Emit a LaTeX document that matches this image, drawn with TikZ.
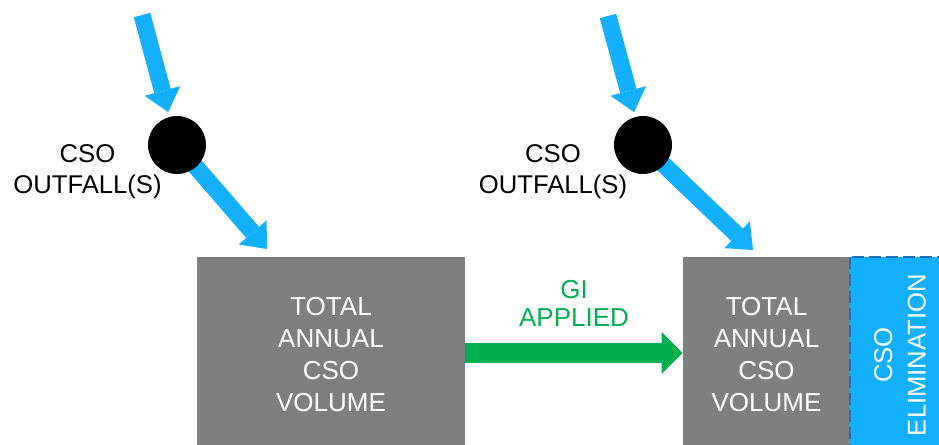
\documentclass[tikz,border=0pt]{standalone}
\usepackage{fontspec}
\setmainfont{Liberation Sans}
\usetikzlibrary{arrows.meta, positioning, calc, backgrounds}
\definecolor{flowblue}{HTML}{12B0FF}
\definecolor{boxgray}{HTML}{7F7F7F}
\definecolor{gigreen}{HTML}{00B050}
\definecolor{dashblue}{HTML}{1F6FC0}

\tikzset{
  flowarrow/.style={flowblue, line width=0.34cm, -{Triangle[width=0.74cm, length=0.44cm, line width=0pt]}},
  giarrow/.style={gigreen, line width=0.4cm, -{Triangle[width=0.84cm, length=0.42cm, line width=0pt]}},
  outfall/.style={circle, fill=black, minimum size=1.16cm, inner sep=0pt, outer sep=0.1cm},
  outfalltext/.style={align=center, font=\fontsize{14.6}{17.6}\selectfont},
  volbox/.style={fill=boxgray, text=white, align=center, minimum height=3.92cm, inner sep=0pt, font=\fontsize{14.8}{18.2}\selectfont},
  elimbox/.style={fill=flowblue, draw=dashblue, line width=1.1pt, dash pattern=on 0.24cm off 0.1cm, text=white, align=center, rotate=90, minimum width=3.92cm, minimum height=2cm, inner sep=0pt, font=\fontsize{14.6}{19}\selectfont},
  gitext/.style={gigreen, align=center, font=\fontsize{14.8}{16}\selectfont}
}

\begin{document}
\begin{tikzpicture}
    \useasboundingbox (0,0) rectangle (18.78,8.88);

    % before GI
    \coordinate (in1) at (2.84,8.58);
    \node[outfall] (out1) at (3.54,5.98) {};
    \coordinate (hit1) at (5.34,3.90);
    \node[outfalltext] (txt1) at (1.75,5.44) {CSO\\OUTFALL(S)};
    \node[volbox, minimum width=5.36cm] (vol1) at (6.62,1.78) {TOTAL\\ANNUAL\\CSO\\VOLUME};

    % after GI
    \coordinate (in2) at (12.16,8.56);
    \node[outfall] (out2) at (12.86,5.98) {};
    \coordinate (hit2) at (15.06,3.88);
    \node[outfalltext] (txt2) at (11.06,5.44) {CSO\\OUTFALL(S)};
    \node[volbox, minimum width=3.34cm] (vol2) at (15.33,1.78) {TOTAL\\ANNUAL\\CSO\\VOLUME};
    \node[elimbox] (elim) at (18.0,1.78) {CSO\\ELIMINATION};

    % flows
    \begin{scope}[on background layer]
      \draw[flowarrow] (in1) -- (out1);
      \draw[flowarrow] (out1.center) -- (hit1);
      \draw[flowarrow] (in2) -- (out2);
      \draw[flowarrow] (out2.center) -- (hit2);
    \end{scope}
    \draw[giarrow] ($(vol1.east)+(0,0.04)$) -- node[gitext, above=0.22cm] (gi) {GI\\APPLIED} ($(vol2.west)+(0,0.04)$);
\end{tikzpicture}
\end{document}
